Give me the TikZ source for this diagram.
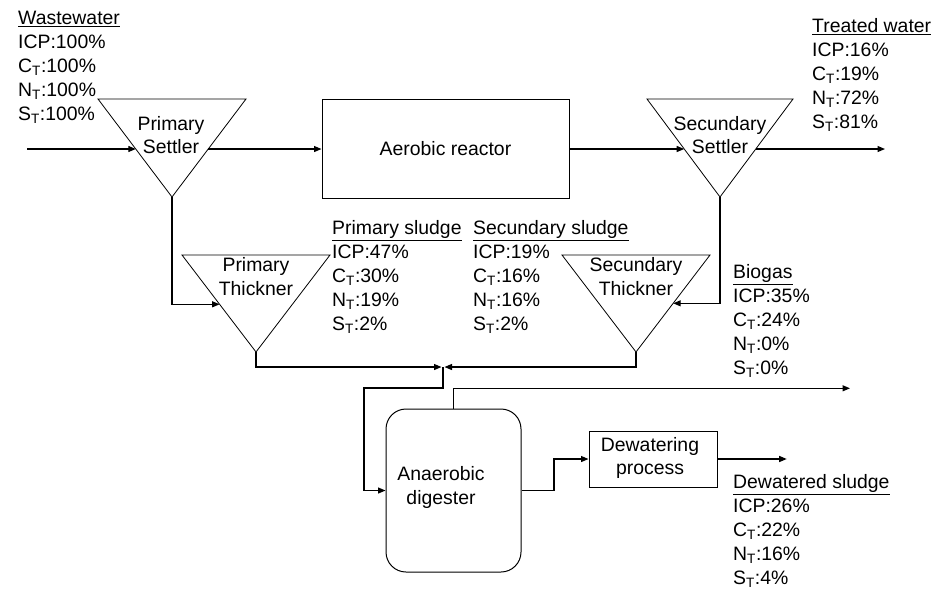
\documentclass[tikz,border=0pt]{standalone}
\usepackage{fontspec}
\setmainfont{Liberation Sans}
\usetikzlibrary{arrows.meta,calc}
\begin{document}
\begin{tikzpicture}[x=1pt,y=-1pt,
  every node/.style={font=\fontsize{19.4}{23.8}\selectfont},
  flow/.style={line width=1.2pt,-{Triangle[length=7.5pt,width=6pt]}},
  outl/.style={line width=0.8pt},
  boxed/.style={draw,line width=1pt,inner sep=0pt},
  lbl/.style={align=left,anchor=base west,inner sep=0pt},
  ctext/.style={align=center,inner sep=0pt}]
\useasboundingbox (0,0) rectangle (935,590);

% Primary settler
\coordinate (psA) at (98,99); \coordinate (psB) at (246,99); \coordinate (psC) at (172,197);
\draw[outl] (psA) -- (psB) -- (psC) -- cycle;
\node[ctext] (psT) at (171,135) {Primary\\Settler};
\coordinate (psIn) at (135.8,149); \coordinate (psOut) at (208.2,149);

% Aerobic reactor
\node[boxed,minimum width=247,minimum height=99] (ar) at (445.5,149) {Aerobic reactor};

% Secundary settler
\coordinate (ssA) at (647,99); \coordinate (ssB) at (793,99); \coordinate (ssC) at (720,197);
\draw[outl] (ssA) -- (ssB) -- (ssC) -- cycle;
\node[ctext] (ssT) at (720,135) {Secundary\\Settler};
\coordinate (ssIn) at (684.2,149); \coordinate (ssOut) at (755.8,149);

% Primary thickner
\coordinate (ptA) at (182,255); \coordinate (ptB) at (330,255); \coordinate (ptC) at (256,352);
\draw[outl] (ptA) -- (ptB) -- (ptC) -- cycle;
\node[ctext] (ptT) at (256,276.7) {Primary\\Thickner};
\coordinate (ptIn) at (219.6,304.3);

% Secundary thickner
\coordinate (stA) at (562,255); \coordinate (stB) at (710,255); \coordinate (stC) at (636,352);
\draw[outl] (stA) -- (stB) -- (stC) -- cycle;
\node[ctext] (stT) at (636,276.7) {Secundary\\Thickner};
\coordinate (stIn) at (673.2,303.3);

% Anaerobic digester
\node[boxed,rounded corners=20pt,minimum width=135,minimum height=163] (ad) at (453.5,490.5) {};
\node[ctext] (adT) at (441,487.5) {Anaerobic\\digester};

% Dewatering
\node[boxed,minimum width=128,minimum height=56] (dw) at (653,459) {};
\node[ctext] (dwT) at (650,458) {Dewatering\\process};

% free ends
\coordinate (wwStart) at (27,149);
\coordinate (twEnd) at (885,149);
\coordinate (j) at (443,367);
\coordinate (bgEnd) at (850,388.3);
\coordinate (dsEnd) at (786.7,459);

% connectors
\draw[flow] (wwStart) -- (psIn);
\draw[flow] (psOut) -- (psOut -| ar.west);
\draw[flow] (ssIn -| ar.east) -- (ssIn);
\draw[flow] (ssOut) -- (twEnd);
\draw[flow] (psC) |- (ptIn);
\draw[flow] (ssC) |- (stIn);
\draw[flow,shorten >=1.5pt] (ptC) |- (j);
\draw[flow,shorten >=1.5pt] (stC) |- (j);
\draw[flow] (j) -- (443,388) -- (364,388) -- (364,490.5) -- (ad.west);
\draw[flow] (ad.north) |- (bgEnd);
\draw[flow] (ad.east) -- (554,490.5) |- (dw.west);
\draw[flow] (dw.east) -- (dsEnd);

% labels (anchor = baseline of last line)
\node[lbl] (ww) at (18,120) {\underline{Wastewater}\\ICP:100\%\\C\textsubscript{T}:100\%\\N\textsubscript{T}:100\%\\S\textsubscript{T}:100\%};
\node[lbl] (tw) at (812,128) {\underline{Treated water}\\ICP:16\%\\C\textsubscript{T}:19\%\\N\textsubscript{T}:72\%\\S\textsubscript{T}:81\%};
\node[lbl] (psl) at (332,330) {\underline{Primary sludge}\\ICP:47\%\\C\textsubscript{T}:30\%\\N\textsubscript{T}:19\%\\S\textsubscript{T}:2\%};
\node[lbl] (ssl) at (473,330) {\underline{Secundary sludge}\\ICP:19\%\\C\textsubscript{T}:16\%\\N\textsubscript{T}:16\%\\S\textsubscript{T}:2\%};
\node[lbl] (bg) at (733,374) {\underline{Biogas}\\ICP:35\%\\C\textsubscript{T}:24\%\\N\textsubscript{T}:0\%\\S\textsubscript{T}:0\%};
\node[lbl] (dsl) at (733,584) {\underline{Dewatered sludge}\\ICP:26\%\\C\textsubscript{T}:22\%\\N\textsubscript{T}:16\%\\S\textsubscript{T}:4\%};
\end{tikzpicture}
\end{document}
